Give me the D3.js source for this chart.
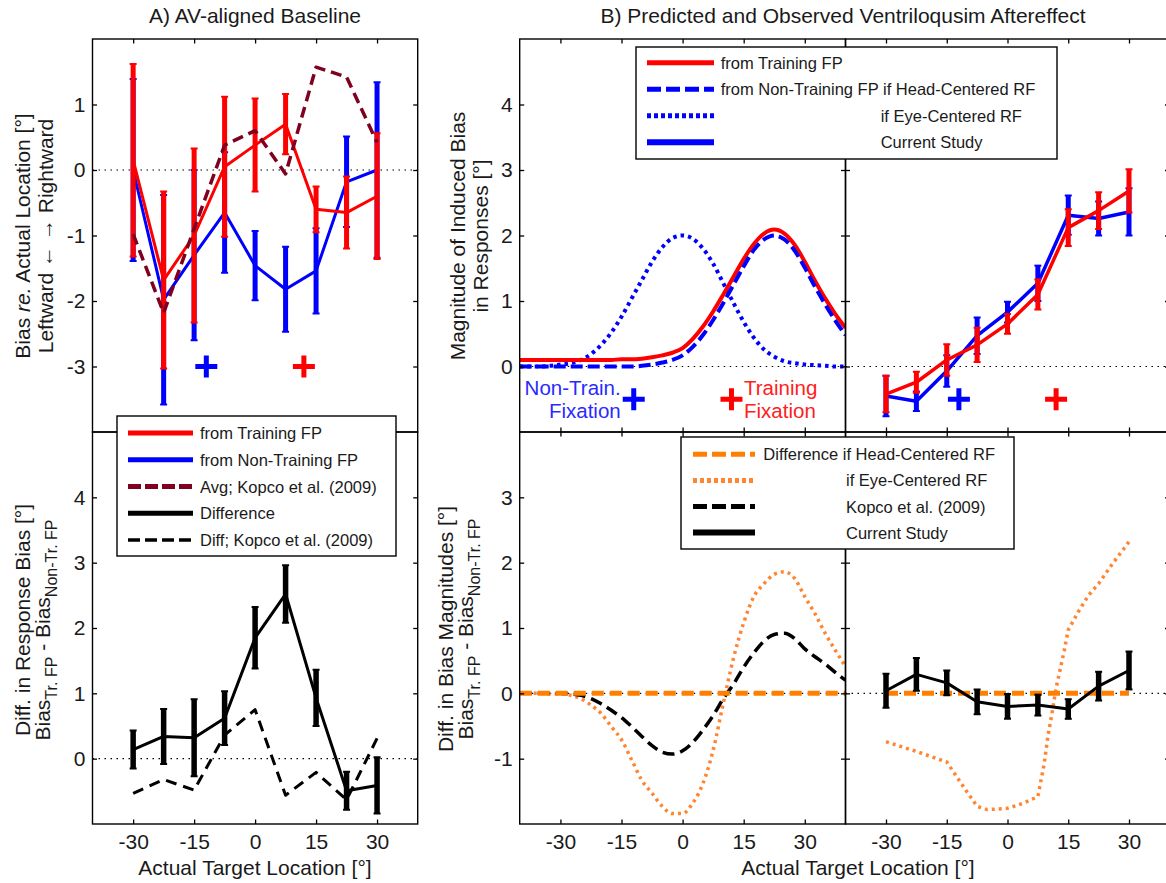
<!DOCTYPE html>
<html><head><meta charset="utf-8">
<script src="https://cdn.jsdelivr.net/npm/d3@7"></script>
<style>
body{margin:0;background:#fff}
svg{display:block}
text{font-family:"Liberation Sans",Arial,Helvetica,sans-serif;fill:#1a1a1a}
</style>
</head><body>
<svg id="c" width="1166" height="883"></svg>
<script>
// ---------------- DATA ----------------
const targetX = [-30, -22.5, -15, -7.5, 0, 7.5, 15, 22.5, 30];
const xTickVals = [-30, -15, 0, 15, 30];
const fixationX = [-12, 12];

// A) AV-aligned baseline
const baseTrainMean = [0.15, -1.68, -1.0, 0.05, 0.38, 0.70, -0.60, -0.65, -0.40];
const baseTrainErr  = [1.47, 1.35, 1.33, 1.07, 0.71, 0.46, 0.35, 0.55, 0.96];
const baseNonTrainMean = [0.0, -1.98, -1.30, -0.65, -1.46, -1.82, -1.54, -0.18, 0.0];
const baseNonTrainErr  = [1.39, 1.60, 1.30, 0.92, 0.53, 0.65, 0.65, 0.69, 1.34];
const baseKopcoAvg = [-0.98, -2.18, -0.90, 0.38, 0.60, -0.06, 1.57, 1.42, 0.42];

const diffMean = [0.14, 0.34, 0.32, 0.62, 1.85, 2.52, 0.93, -0.49, -0.41];
const diffErr  = [0.29, 0.42, 0.59, 0.41, 0.47, 0.44, 0.43, 0.29, 0.43];
const diffKopco = [-0.53, -0.32, -0.48, 0.36, 0.75, -0.56, -0.21, -0.63, 0.31];

// B) predicted curves (read at 2.5 deg steps)
const curveX = [-40,-37.5,-35,-32.5,-30,-27.5,-25,-22.5,-20,-17.5,-15,-12.5,-10,-7.5,-5,-2.5,0,2.5,5,7.5,10,12.5,15,17.5,20,22.5,25,27.5,30,32.5,35,37.5,40];
const predTrain = [0.10,0.10,0.10,0.10,0.10,0.10,0.10,0.10,0.10,0.10,0.11,0.11,0.12,0.14,0.17,0.21,0.28,0.42,0.61,0.84,1.10,1.37,1.64,1.87,2.03,2.09,2.03,1.86,1.60,1.31,1.04,0.80,0.59];
const predHead  = [0,0,0,0,0,0,0,0,0,0,0,0,0.01,0.03,0.06,0.10,0.17,0.30,0.48,0.71,0.97,1.25,1.53,1.78,1.94,2.00,1.94,1.77,1.51,1.22,0.95,0.70,0.48];
const predEye   = [0,0,0,0.01,0.03,0.05,0.10,0.19,0.33,0.52,0.76,1.04,1.32,1.60,1.82,1.96,2.00,1.95,1.80,1.57,1.27,0.97,0.68,0.44,0.26,0.15,0.08,0.05,0.03,0.02,0.01,0,0];

// B) observed
const obsTrain    = [-0.42, -0.24, 0.10, 0.33, 0.65, 1.10, 2.12, 2.38, 2.68];
const obsTrainErr = [0.28, 0.16, 0.24, 0.26, 0.15, 0.23, 0.28, 0.28, 0.33];
const obsNonTrain    = [-0.45, -0.53, -0.07, 0.47, 0.83, 1.27, 2.31, 2.26, 2.36];
const obsNonTrainErr = [0.31, 0.15, 0.24, 0.28, 0.16, 0.27, 0.30, 0.26, 0.36];

// B) predicted differences
const headDiffX = [-40, 40];
const headDiff  = [0, 0];
const eyeDiffPred = [0,0,0,-0.01,-0.01,-0.03,-0.08,-0.18,-0.31,-0.51,-0.71,-1.02,-1.33,-1.53,-1.73,-1.84,-1.84,-1.68,-1.38,-0.87,-0.15,0.54,1.08,1.48,1.68,1.82,1.86,1.76,1.48,1.22,0.92,0.66,0.41];
const kopcoDiffPred = [0,0,0,0,0,-0.01,-0.03,-0.08,-0.16,-0.26,-0.37,-0.51,-0.66,-0.80,-0.90,-0.93,-0.88,-0.75,-0.56,-0.34,-0.08,0.14,0.40,0.62,0.80,0.90,0.92,0.84,0.68,0.56,0.45,0.32,0.20];

// B) observed differences
const obsDiff    = [0.04, 0.29, 0.16, -0.13, -0.20, -0.18, -0.24, 0.11, 0.35];
const obsDiffErr = [0.26, 0.25, 0.19, 0.19, 0.19, 0.16, 0.15, 0.22, 0.29];
const obsHeadDiff = [0, 0, 0, 0, 0, 0, 0, 0, 0];
const eyeObsX = [-30,-22.5,-15,-12.5,-10,-7.5,-5,0,4,7.5,9,10,11,12,14,15,17.5,20,22.5,26,30];
const eyeObsDiff = [-0.74,-0.89,-1.05,-1.28,-1.51,-1.73,-1.78,-1.76,-1.68,-1.58,-1.10,-0.65,-0.30,0.08,0.65,0.97,1.25,1.50,1.68,1.99,2.32];

// ---------------- DRAWING ----------------
const svg = d3.select('#c');
const RED = '#ff0000', BLUE = '#0000ff', MAROON = '#800020', ORANGE = '#ff8000', ORANGE_DOT = '#ff8533';
let clipN = 0;

function makePanel(x0, x1, y0, y1, ydom) {
  const x = d3.scaleLinear().domain([-40, 40]).range([x0, x1]);
  const y = d3.scaleLinear().domain(ydom).range([y1, y0]);
  const id = 'clip' + (clipN++);
  svg.append('clipPath').attr('id', id).append('rect')
    .attr('x', x0).attr('y', y0).attr('width', x1 - x0).attr('height', y1 - y0);
  const g = svg.append('g');
  g.append('line').attr('x1', x0).attr('x2', x1).attr('y1', y(0)).attr('y2', y(0))
    .attr('stroke', '#000').attr('stroke-width', 1.2).attr('stroke-dasharray', '1.5,4.5');
  const plot = g.append('g').attr('clip-path', `url(#${id})`);
  return {x, y, g, plot, x0, x1, y0, y1};
}

function frame(p, yTicks, showX, showY) {
  const fmt = d => String(d);
  const ax = [
    [d3.axisBottom(p.x), `translate(0,${p.y1})`, showX, 'x'],
    [d3.axisTop(p.x), `translate(0,${p.y0})`, false, 'x'],
    [d3.axisLeft(p.y), `translate(${p.x0},0)`, showY, 'y'],
    [d3.axisRight(p.y), `translate(${p.x1},0)`, false, 'y']
  ];
  ax.forEach(([a, tr, lab, k]) => {
    a.tickValues(k === 'x' ? xTickVals : yTicks).tickSizeInner(-4.5).tickSizeOuter(0)
      .tickPadding(k === 'x' ? 10 : 7).tickFormat(lab ? fmt : () => '');
    const gg = p.g.append('g').attr('transform', tr).call(a);
    gg.select('.domain').remove();
    gg.selectAll('line').attr('stroke', '#000').attr('stroke-width', 1.3);
    gg.selectAll('text').attr('font-size', 21).attr('font-family', '"Liberation Sans",Arial,sans-serif').attr('fill', '#1a1a1a');
  });
  p.g.append('rect').attr('x', p.x0).attr('y', p.y0).attr('width', p.x1 - p.x0).attr('height', p.y1 - p.y0)
    .attr('fill', 'none').attr('stroke', '#000').attr('stroke-width', 1.4);
}

function seriesLine(p, xs, ys, color, w, dash, curve) {
  const line = d3.line().x(d => p.x(d[0])).y(d => p.y(d[1])).curve(curve || d3.curveLinear);
  p.plot.append('path').datum(xs.map((d, i) => [d, ys[i]]))
    .attr('d', line).attr('fill', 'none').attr('stroke', color).attr('stroke-width', w)
    .attr('stroke-dasharray', dash || null).attr('stroke-linejoin', 'round');
}

function errBars(p, xs, m, e, color, w) {
  const data = xs.map((d, i) => ({x: d, lo: m[i] - e[i], hi: m[i] + e[i]}));
  const g = p.plot.append('g').attr('stroke', color);
  g.selectAll('line.v').data(data).join('line').attr('class', 'v')
    .attr('x1', d => p.x(d.x)).attr('x2', d => p.x(d.x))
    .attr('y1', d => p.y(d.lo)).attr('y2', d => p.y(d.hi)).attr('stroke-width', w);
  ['lo', 'hi'].forEach(k => {
    g.selectAll('line.' + k).data(data).join('line').attr('class', k)
      .attr('x1', d => p.x(d.x) - 3.5).attr('x2', d => p.x(d.x) + 3.5)
      .attr('y1', d => p.y(d[k])).attr('y2', d => p.y(d[k])).attr('stroke-width', 2);
  });
}

function plus(p, xv, yv, color) {
  const cx = p.x(xv), cy = p.y(yv);
  p.g.append('path').attr('d', `M${cx - 11},${cy}H${cx + 11}M${cx},${cy - 11}V${cy + 11}`)
    .attr('stroke', color).attr('stroke-width', 5).attr('fill', 'none');
}

function legend(x0, y0, x1, y1, items, lx0, lx1, rowY0, rowDy) {
  const g = svg.append('g');
  g.append('rect').attr('x', x0).attr('y', y0).attr('width', x1 - x0).attr('height', y1 - y0)
    .attr('fill', '#fff').attr('stroke', '#000').attr('stroke-width', 1.4);
  items.forEach((it, i) => {
    const yy = rowY0 + i * rowDy;
    g.append('line').attr('x1', lx0).attr('x2', lx1).attr('y1', yy).attr('y2', yy)
      .attr('stroke', it.color).attr('stroke-width', it.w).attr('stroke-dasharray', it.dash || null);
    g.append('text').attr('x', it.tx).attr('y', yy + 6).attr('font-size', 16.5).text(it.label);
  });
}

function yLabel(cx, cy, parts) {
  const t = svg.append('text').attr('transform', `translate(${cx},${cy}) rotate(-90)`)
    .attr('text-anchor', 'middle').attr('font-size', 21);
  parts.forEach(pt => {
    const s = t.append('tspan').text(pt.t);
    if (pt.sub) s.attr('font-size', 16).attr('dy', pt.dy);
    else if (pt.dy) s.attr('dy', pt.dy);
    if (pt.it) s.attr('font-style', 'italic');
  });
}

// Panels
const pA1 = makePanel(92.5, 417.7, 39, 432, [-4, 2]);
const pA2 = makePanel(92.5, 417.7, 432, 824, [-1, 5]);
const pB1 = makePanel(519.7, 845.5, 39, 432, [-1, 5]);
const pB2 = makePanel(845.5, 1169.5, 39, 432, [-1, 5]);
const pB3 = makePanel(519.7, 845.5, 432, 824, [-2, 4]);
const pB4 = makePanel(845.5, 1169.5, 432, 824, [-2, 4]);

// A top
seriesLine(pA1, targetX, baseNonTrainMean, BLUE, 3);
errBars(pA1, targetX, baseNonTrainMean, baseNonTrainErr, BLUE, 5);
seriesLine(pA1, targetX, baseTrainMean, RED, 3);
errBars(pA1, targetX, baseTrainMean, baseTrainErr, RED, 5);
seriesLine(pA1, targetX, baseKopcoAvg, MAROON, 3.5, '11,6');
plus(pA1, fixationX[0], -3, BLUE);
plus(pA1, fixationX[1], -3, RED);

// A bottom
seriesLine(pA2, targetX, diffKopco, '#000', 3, '11,7');
seriesLine(pA2, targetX, diffMean, '#000', 3);
errBars(pA2, targetX, diffMean, diffErr, '#000', 5.5);

// B top left
seriesLine(pB1, curveX, predEye, BLUE, 4, '3.5,4', d3.curveMonotoneX);
seriesLine(pB1, curveX, predTrain, RED, 4, null, d3.curveMonotoneX);
seriesLine(pB1, curveX, predHead, BLUE, 4, '12,5', d3.curveMonotoneX);
plus(pB1, fixationX[0], -0.5, BLUE);
plus(pB1, fixationX[1], -0.5, RED);
pB1.g.append('text').attr('x', 620.7).attr('y', 395).attr('text-anchor', 'end').attr('font-size', 20.5).style('fill', '#2a2aff').text('Non-Train.');
pB1.g.append('text').attr('x', 620.7).attr('y', 418).attr('text-anchor', 'end').attr('font-size', 20.5).style('fill', '#2a2aff').text('Fixation');
pB1.g.append('text').attr('x', 744).attr('y', 395).attr('font-size', 20.5).style('fill', '#ff2020').text('Training');
pB1.g.append('text').attr('x', 744).attr('y', 418).attr('font-size', 20.5).style('fill', '#ff2020').text('Fixation');

// B top right
seriesLine(pB2, targetX, obsNonTrain, BLUE, 3.5);
errBars(pB2, targetX, obsNonTrain, obsNonTrainErr, BLUE, 5);
seriesLine(pB2, targetX, obsTrain, RED, 3.5);
errBars(pB2, targetX, obsTrain, obsTrainErr, RED, 5);
plus(pB2, fixationX[0], -0.5, BLUE);
plus(pB2, fixationX[1], -0.5, RED);

// B bottom left
seriesLine(pB3, curveX, eyeDiffPred, ORANGE_DOT, 3.5, '3,4', d3.curveMonotoneX);
seriesLine(pB3, curveX, kopcoDiffPred, '#000', 3.5, '12,6', d3.curveMonotoneX);
seriesLine(pB3, headDiffX, headDiff, ORANGE, 5, '12,6');

// B bottom right
seriesLine(pB4, eyeObsX, eyeObsDiff, ORANGE_DOT, 3.5, '3,4');
seriesLine(pB4, targetX, obsHeadDiff, ORANGE, 5, '12,6');
seriesLine(pB4, targetX, obsDiff, '#000', 3);
errBars(pB4, targetX, obsDiff, obsDiffErr, '#000', 5.5);

// frames
frame(pA1, [-3, -2, -1, 0, 1], false, true);
frame(pA2, [0, 1, 2, 3, 4], true, true);
frame(pB1, [0, 1, 2, 3, 4], false, true);
frame(pB2, [0, 1, 2, 3, 4], false, false);
frame(pB3, [-1, 0, 1, 2, 3], true, true);
frame(pB4, [-1, 0, 1, 2, 3], true, false);

// titles
svg.append('text').attr('x', 255).attr('y', 23).attr('text-anchor', 'middle').attr('font-size', 21).text('A) AV-aligned Baseline');
svg.append('text').attr('x', 843).attr('y', 23).attr('text-anchor', 'middle').attr('font-size', 21).text('B) Predicted and Observed Ventriloqusim Aftereffect');
svg.append('text').attr('x', 255).attr('y', 875).attr('text-anchor', 'middle').attr('font-size', 21).text('Actual Target Location [°]');
svg.append('text').attr('x', 858).attr('y', 875).attr('text-anchor', 'middle').attr('font-size', 21).text('Actual Target Location [°]');

// y labels
yLabel(30, 236, [{t: 'Bias '}, {t: 're.', it: true}, {t: ' Actual Location [°]'}]);
yLabel(53, 236, [{t: 'Leftward ← → Rightward'}]);
yLabel(30, 620, [{t: 'Diff. in Response Bias [°]'}]);
yLabel(50, 630, [{t: 'Bias'}, {t: 'Tr. FP', sub: true, dy: 7}, {t: ' - Bias', dy: -7}, {t: 'Non-Tr. FP', sub: true, dy: 7}]);
yLabel(465, 236, [{t: 'Magnitude of Induced Bias'}]);
yLabel(488, 236, [{t: 'in Responses [°]'}]);
yLabel(453, 629, [{t: 'Diff. in Bias Magnitudes [°]'}]);
yLabel(473, 629, [{t: 'Bias'}, {t: 'Tr. FP', sub: true, dy: 7}, {t: ' - Bias', dy: -7}, {t: 'Non-Tr. FP', sub: true, dy: 7}]);

// legends
legend(117, 416, 396, 556, [
  {label: 'from Training FP', color: RED, w: 5, tx: 200},
  {label: 'from Non-Training FP', color: BLUE, w: 5, tx: 200},
  {label: 'Avg; Kopco et al. (2009)', color: MAROON, w: 5, dash: '13,4', tx: 200},
  {label: 'Difference', color: '#000', w: 5, tx: 200},
  {label: 'Diff; Kopco et al. (2009)', color: '#000', w: 3.5, dash: '12,5', tx: 200}
], 128, 193, 433, 26.75);

legend(636, 47, 1057, 159, [
  {label: 'from Training FP', color: RED, w: 5, tx: 720.7},
  {label: 'from Non-Training FP if Head-Centered RF', color: BLUE, w: 5, dash: '14,5', tx: 720.7},
  {label: 'if Eye-Centered RF', color: BLUE, w: 5, dash: '4,3', tx: 880.7},
  {label: 'Current Study', color: BLUE, w: 6, tx: 880.7}
], 647, 714, 62.7, 26.5);

legend(681, 437, 1014, 549, [
  {label: 'Difference if Head-Centered RF', color: ORANGE, w: 5, dash: '14,5', tx: 763.3},
  {label: 'if Eye-Centered RF', color: ORANGE_DOT, w: 5, dash: '4,3', tx: 846},
  {label: 'Kopco et al. (2009)', color: '#000', w: 5, dash: '14,5', tx: 846},
  {label: 'Current Study', color: '#000', w: 6, tx: 846}
], 693, 755, 454.3, 26.1);
</script>
</body></html>
